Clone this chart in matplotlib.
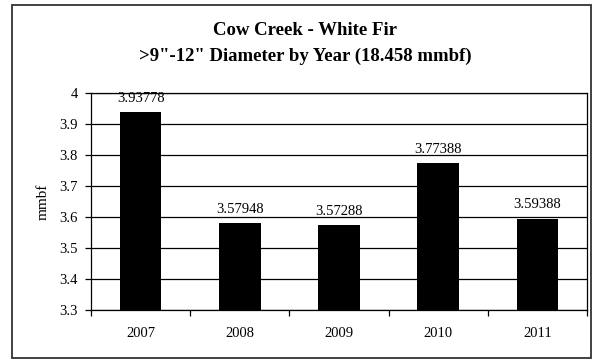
import numpy as np
import matplotlib.pyplot as plt
from matplotlib.patches import Rectangle

# data
years = ['2007', '2008', '2009', '2010', '2011']
values = [3.93778, 3.57948, 3.57288, 3.77388, 3.59388]
yticks = [3.3, 3.4, 3.5, 3.6, 3.7, 3.8, 3.9, 4]
ytick_labels = ['3.3', '3.4', '3.5', '3.6', '3.7', '3.8', '3.9', '4']

plt.rcParams['font.family'] = ['Liberation Serif', 'DejaVu Serif']

W, H = 599, 362
fig = plt.figure(figsize=(W / 100, H / 100), dpi=100)
# outer chart frame
fig.patches.append(Rectangle((12 / W, 1 - 358 / H), 579 / W, 353 / H,
                             transform=fig.transFigure, fill=False,
                             edgecolor='#333333', linewidth=1.3))

ax = fig.add_axes([91 / W, 1 - 310 / H, 496 / W, 217 / H])
x = np.arange(len(years))
ax.bar(x, values, width=0.42, color='black', zorder=3)
ax.set_ylim(3.3, 4)
ax.set_xlim(-0.5, len(years) - 0.5)
ax.set_yticks(yticks)
ax.set_yticklabels(ytick_labels, fontsize=10.5)
ax.yaxis.grid(True, color='black', linewidth=0.9, zorder=0)

ax.set_xticks(x)
ax.set_xticklabels(years, fontsize=10.5)
ax.tick_params(axis='x', length=0, pad=12)
ax.set_xticks(np.arange(-0.5, len(years)), minor=True)
ax.tick_params(axis='x', which='minor', length=4, width=0.9, direction='out', color='black')
ax.tick_params(axis='y', length=4.5, width=0.9, direction='out', color='black', pad=5)

for s in ax.spines.values():
    s.set_color('black')
    s.set_linewidth(0.9)

for xi, v in zip(x, values):
    ax.annotate(f'{v:.5f}', (xi, v), xytext=(0, 7.5), textcoords='offset points',
                ha='center', va='baseline', fontsize=10.5, zorder=4,
                annotation_clip=False)

ax.set_ylabel('mmbf', fontsize=11, labelpad=7)

fig.text(305 / W, 1 - 35 / H, 'Cow Creek - White Fir', ha='center', va='baseline',
         fontsize=13.5, fontweight='bold')
fig.text(305 / W, 1 - 61 / H, '>9"-12" Diameter by Year (18.458 mmbf)', ha='center',
         va='baseline', fontsize=13.5, fontweight='bold')

fig.savefig('out.png', dpi=100)
